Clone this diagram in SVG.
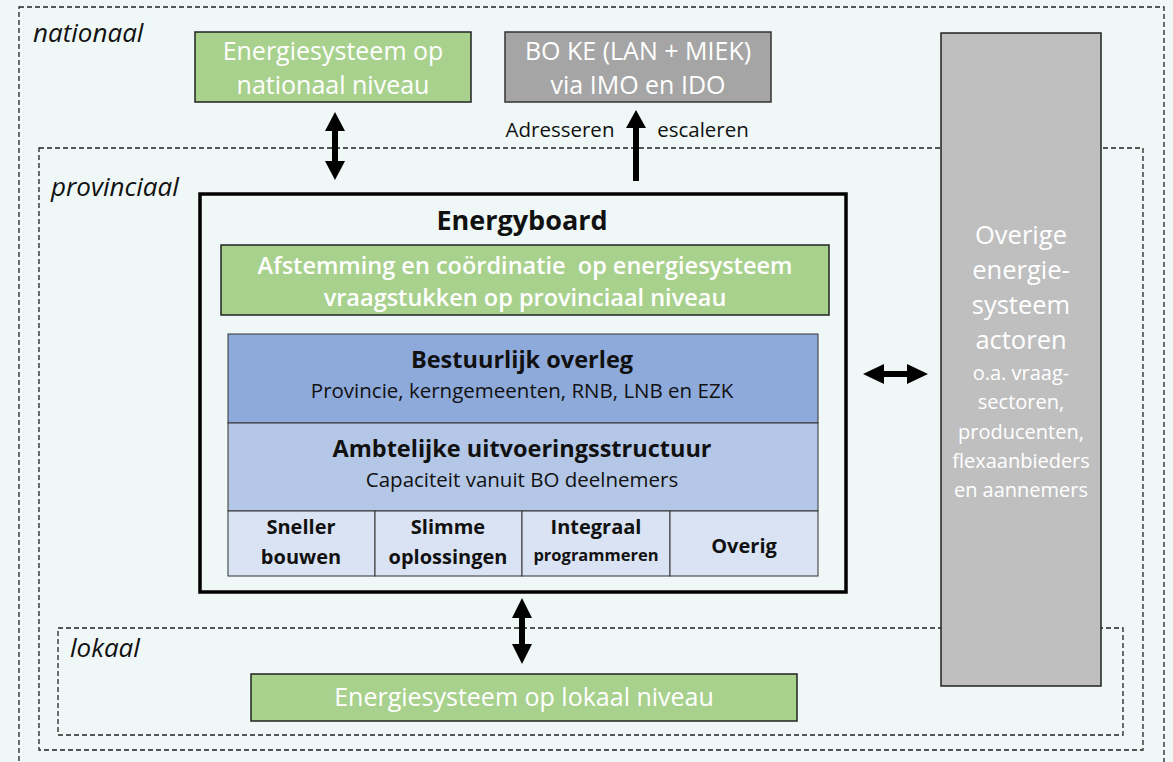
<svg xmlns="http://www.w3.org/2000/svg" width="1173" height="762" viewBox="0 0 1173 762">
<defs>
<style>
.dash{fill:none;stroke:#222;stroke-width:1.3;stroke-dasharray:5,3}
.lvl{font-family:"Open Sans","Liberation Sans",sans-serif;font-style:italic;font-size:26px;fill:#111}
.wt{font-family:"Open Sans","Liberation Sans",sans-serif;fill:#fff;text-anchor:middle}
.bk{font-family:"Open Sans","Liberation Sans",sans-serif;fill:#111;text-anchor:middle}
.green{fill:#a9d18e;stroke:#222;stroke-width:1.5}
.arr{fill:#000;stroke:none}
</style>
</defs>
<rect x="0" y="0" width="1173" height="762" fill="#eff8f7"/>
<g id="levels">
<rect class="dash" x="19" y="7" width="1145" height="780"/>
<rect class="dash" x="39" y="148" width="1104" height="602"/>
<rect class="dash" x="58" y="628" width="1065" height="107"/>
<text class="lvl" x="33" y="42">nationaal</text>
<text class="lvl" x="51" y="196">provinciaal</text>
<text class="lvl" x="70" y="657">lokaal</text>
</g>
<g id="national">
<rect class="green" x="195" y="32" width="276" height="70"/>
<text class="wt" x="333" y="60" font-size="25">Energiesysteem op</text>
<text class="wt" x="333" y="94" font-size="25">nationaal niveau</text>
</g>
<g id="boke">
<rect x="505" y="32" width="266" height="70" fill="#a5a5a5" stroke="#333" stroke-width="1.5"/>
<text class="wt" x="638" y="60" font-size="25">BO KE (LAN + MIEK)</text>
<text class="wt" x="638" y="94" font-size="25">via IMO en IDO</text>
</g>
<g id="overige">
<rect x="941" y="33" width="160" height="653" fill="#bfbfbf" stroke="#222" stroke-width="1.5"/>
<g class="wt" font-size="25.5">
<text x="1021" y="244">Overige</text>
<text x="1021" y="279">energie-</text>
<text x="1021" y="314">systeem</text>
<text x="1021" y="349">actoren</text>
</g>
<g class="wt" font-size="20">
<text x="1021" y="380">o.a. vraag-</text>
<text x="1021" y="409">sectoren,</text>
<text x="1021" y="439">producenten,</text>
<text x="1021" y="468">flexaanbieders</text>
<text x="1021" y="497">en aannemers</text>
</g>
</g>
<g id="energyboard">
<rect x="200" y="194" width="646" height="398" fill="none" stroke="#000" stroke-width="3.5"/>
<text class="bk" x="522" y="230" font-size="27" font-weight="bold">Energyboard</text>
<rect class="green" x="221" y="245" width="608" height="70" stroke="#333"/>
<text class="wt" x="525" y="274" font-size="23.5" font-weight="600" style="white-space:pre">Afstemming en coördinatie  op energiesysteem</text>
<text class="wt" x="525" y="306" font-size="23.5" font-weight="600">vraagstukken op provinciaal niveau</text>
</g>
<g id="bestuurlijk">
<rect x="228" y="334" width="590" height="89" fill="#8eaadb" stroke="#333" stroke-width="1"/>
<text class="bk" x="522" y="368" font-size="23.5" font-weight="bold">Bestuurlijk overleg</text>
<text class="bk" x="522" y="398" font-size="20.5">Provincie, kerngemeenten, RNB, LNB en EZK</text>
</g>
<g id="ambtelijk">
<rect x="228" y="423" width="590" height="88" fill="#b4c7e7" stroke="#333" stroke-width="1"/>
<text class="bk" x="522" y="457" font-size="23.5" font-weight="bold">Ambtelijke uitvoeringsstructuur</text>
<text class="bk" x="522" y="487" font-size="20.5">Capaciteit vanuit BO deelnemers</text>
</g>
<g id="subs" font-weight="bold">
<rect x="228" y="511" width="147" height="65" fill="#dae3f3" stroke="#333" stroke-width="1"/>
<rect x="375" y="511" width="147" height="65" fill="#dae3f3" stroke="#333" stroke-width="1"/>
<rect x="522" y="511" width="148" height="65" fill="#dae3f3" stroke="#333" stroke-width="1"/>
<rect x="670" y="511" width="148" height="65" fill="#dae3f3" stroke="#333" stroke-width="1"/>
<text class="bk" x="301" y="534" font-size="20">Sneller</text>
<text class="bk" x="301" y="564" font-size="20">bouwen</text>
<text class="bk" x="448" y="534" font-size="20">Slimme</text>
<text class="bk" x="448" y="564" font-size="20">oplossingen</text>
<text class="bk" x="596" y="534" font-size="20">Integraal</text>
<text class="bk" x="596" y="561" font-size="16.5">programmeren</text>
<text class="bk" x="744" y="553" font-size="20">Overig</text>
</g>
<g id="lokaal">
<rect class="green" x="251" y="674" width="546" height="47"/>
<text class="wt" x="524" y="706" font-size="25">Energiesysteem op lokaal niveau</text>
</g>
<g id="connectors">
<path class="arr" d="M335,112 L345,131 L338,131 L338,161 L345,161 L335,180 L325,161 L332,161 L332,131 L325,131 Z"/>
<path class="arr" d="M636,110 L646,128 L639,128 L639,181 L633,181 L633,128 L626,128 Z"/>
<path class="arr" d="M863,374 L884,364 L884,371 L907,371 L907,364 L928,374 L907,384 L907,377 L884,377 L884,384 Z"/>
<path class="arr" d="M522,598 L532,618 L525,618 L525,644 L532,644 L522,664 L512,644 L519,644 L519,618 L512,618 Z"/>
<text class="bk" x="560" y="137" font-size="20.5">Adresseren</text>
<text class="bk" x="703" y="137" font-size="20.5">escaleren</text>
</g>
</svg>
